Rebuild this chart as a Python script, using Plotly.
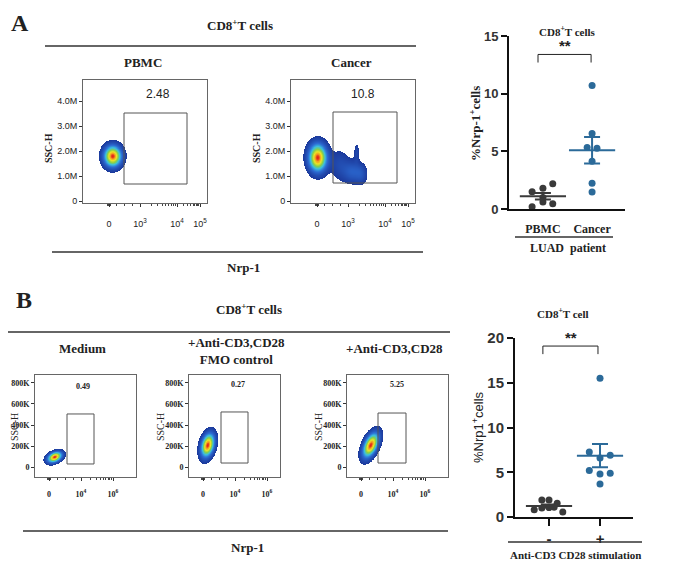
import numpy as np
import plotly.graph_objects as go

W, H = 677, 574
OX, OY = 8, 8  # page body margin in the browser
SERIF = 'Liberation Serif'
SANS = 'Liberation Sans'

# ---------------- values ----------------
# A, dot plot (% Nrp-1+ of CD8+ T cells, LUAD patients)
a_groups = ['PBMC', 'Cancer']
a_pbmc = [1.5, 1.8, 2.2, 1.0, 0.2, 0.6, 0.45]
a_pbmc_dx = [-0.22, 0.0, 0.2, 0.0, -0.22, 0.0, 0.2]
a_cancer = [10.7, 6.55, 5.34, 5.26, 4.14, 2.24, 1.47]
a_cancer_dx = [0.0, 0.0, -0.1, 0.1, 0.0, 0.0, 0.0]

# B, dot plot (anti-CD3/CD28 stimulation)
b_groups = ['-', '+']
b_minus = [0.8, 1.9, 1.9, 1.55, 1.0, 1.05, 1.1, 0.55]
b_minus_dx = [-0.29, -0.14, 0.0, 0.16, -0.14, 0.0, 0.1, 0.27]
b_plus = [15.5, 7.25, 6.6, 6.9, 5.2, 4.8, 4.9, 3.7]
b_plus_dx = [0.0, -0.21, 0.0, 0.2, -0.21, 0.0, 0.2, 0.0]

# flow plots: gate percentages, gate bounds, density blobs [cx, cy, sx, sy, rho, amp]
a_flow_titles = ['PBMC', 'Cancer']
a_flow_pct = ['2.48', '10.8']
a_gate_x = [[41, 104], [42, 106]]
a_gate_y = [[0.68, 3.52], [0.72, 3.56]]
a_blobs = [
    [[30, 1.78, 5.9, 0.28, 0.0, 1.0]],
    [[27, 1.72, 6.1, 0.37, 0.0, 1.0],
     [49, 1.45, 6.5, 0.42, 0.0, 0.13],
     [62, 1.15, 6.5, 0.30, 0.0, 0.22],
     [71, 1.05, 4.0, 0.28, 0.0, 0.13],
     [66, 1.95, 1.8, 0.25, 0.0, 0.12]],
]
a_ytick_text = ['0', '1.0M', '2.0M', '3.0M', '4.0M']
a_xtick_text = ['0', '10<sup>3</sup>', '10<sup>4</sup>', '10<sup>5</sup>']

b_flow_titles = ['Medium', '+Anti-CD3,CD28<br>FMO control', '+Anti-CD3,CD28']
b_flow_pct = ['0.49', '0.27', '5.25']
b_gate_x = [[32, 59], [32, 59], [31, 59]]
b_gate_y = [[29, 505], [38, 524], [38, 514]]
b_blobs = [
    [[20, 92, 4.8, 34, 0.35, 1.0]],
    [[19, 205, 4.5, 75, 0.3, 1.0]],
    [[24, 205, 5.3, 78, 0.5, 1.0]],
]
b_ytick_text = ['0', '200K', '400K', '600K', '800K']
b_xtick_text = ['0', '10<sup>4</sup>', '10<sup>6</sup>']

JET = [[0.0, '#1c3a9c'], [0.25, '#2c6bd3'], [0.45, '#3bbfe0'], [0.63, '#86cf4a'],
       [0.8, '#ece425'], [0.92, '#f49a20'], [1.0, '#e1221a']]
T = 0.06


def xdom(x0, x1):
    return [(x0 - OX) / W, (x1 - OX) / W]


def ydom(y0, y1):
    return [1 - (y1 - OY) / H, 1 - (y0 - OY) / H]


def blob_trace(n, blobs, xspan, yr):
    xs = np.linspace(0, xspan, int(xspan * 3))
    ys = np.linspace(yr[0], yr[1], 360)
    X, Y = np.meshgrid(xs, ys)
    Z = np.zeros_like(X)
    for cx, cy, sx, sy, rho, amp in blobs:
        u = (X - cx) / sx
        v = (Y - cy) / sy
        q = (u * u + v * v - 2 * rho * u * v) / (1 - rho * rho)
        Z += amp * np.exp(-0.5 * q)
    Z = Z / Z.max()
    Z[Z < T] = np.nan
    return go.Heatmap(x=xs, y=ys, z=Z, colorscale=JET, zmin=T, zmax=1, showscale=False,
                      xaxis=f'x{n}', yaxis=f'y{n}', hoverinfo='skip')


def log_minor(majors, lo):
    # dense ticks around zero, linear below the first decade, log within decades
    vals = [lo - 1.5, lo - 0.75, lo + 0.75, lo + 1.5]
    vals += list(np.linspace(lo, majors[0], 5)[1:-1])
    for p0, p1 in zip(majors[:-1], majors[1:]):
        vals += [p0 + (p1 - p0) * np.log10(k) for k in range(2, 10)]
    return vals


fig = go.Figure()
layout = dict(width=W, height=H, margin=dict(l=0, r=0, t=0, b=0, autoexpand=False),
              paper_bgcolor='white', plot_bgcolor='white', showlegend=False)
annotations = []
shapes = []


def ann(x, y, text, size, family=SERIF, bold=True, color='#222', angle=0, xref='paper', yref='paper',
        xanchor='center', yanchor='middle'):
    if xref == 'paper':
        x = (x - OX) / W
    if yref == 'paper':
        y = 1 - (y - OY) / H
    annotations.append(dict(x=x, y=y, xref=xref, yref=yref, text=text, showarrow=False,
                            textangle=angle, xanchor=xanchor, yanchor=yanchor,
                            font=dict(family=family, size=size, color=color,
                                      weight='bold' if bold else 'normal')))


def hline(x0, x1, y, color='#333', width=1.3):
    yy = 1 - (y - OY) / H
    shapes.append(dict(type='line', xref='paper', yref='paper', x0=(x0 - OX) / W, x1=(x1 - OX) / W,
                       y0=yy, y1=yy, line=dict(color=color, width=width)))


def flow_panel(n, px, py, xspan, yr, xt, xtt, yt, ytt, tfont, standoff, blobs, gx, gy, pct, pctpos, pfont):
    layout[f'xaxis{n}'] = dict(domain=xdom(*px), range=[0, xspan], anchor=f'y{n}',
                               showline=True, mirror=True, linecolor='#666', linewidth=1,
                               ticks='outside', ticklen=3, tickcolor='#333', tickvals=xt, ticktext=xtt,
                               tickfont=tfont, ticklabelstandoff=standoff,
                               minor=dict(tickvals=log_minor(xt[1:], xt[0]), ticklen=2, ticks='outside', tickcolor='#444'),
                               showgrid=False, zeroline=False, fixedrange=True)
    layout[f'yaxis{n}'] = dict(domain=ydom(*py), range=yr, anchor=f'x{n}',
                               showline=True, mirror=True, linecolor='#666', linewidth=1,
                               ticks='outside', ticklen=3, tickcolor='#333', tickvals=yt, ticktext=ytt,
                               tickfont=tfont, showgrid=False, zeroline=False, fixedrange=True)
    fig.add_trace(blob_trace(n, blobs, xspan, yr))
    shapes.append(dict(type='rect', xref=f'x{n}', yref=f'y{n}', x0=gx[0], x1=gx[1], y0=gy[0], y1=gy[1],
                       line=dict(color='#555', width=1)))
    ann(pctpos[0], pctpos[1], pct, pfont['size'], family=pfont['family'], bold=pfont['bold'],
        color='#222', xref=f'x{n}', yref=f'y{n}')


# ---------------- panel A flow plots ----------------
a_px = [(83, 207), (291, 415)]
a_pct_pos = [(75, 4.28), (72, 4.28)]
for i in range(2):
    n = i + 1
    flow_panel(n, a_px[i], (80, 203), 124, [-0.08, 4.84],
               [26, 57, 94, 117], a_xtick_text, [0, 1, 2, 3, 4], a_ytick_text,
               dict(family=SANS, size=9, color='#222'), 9, a_blobs[i],
               a_gate_x[i], a_gate_y[i], a_flow_pct[i], a_pct_pos[i],
               dict(family=SANS, size=12, bold=False))
    ann((a_px[i][0] + a_px[i][1]) / 2 - 2, 63, a_flow_titles[i], 13)
    ann(a_px[i][0] - 35, 148, 'SSC-H', 10, angle=-90)

ann(9, 8, 'A', 24, xanchor='left', yanchor='top')
ann(240, 25, 'CD8<sup>+</sup>T cells', 13)
hline(45, 416, 46)
hline(52, 423, 252)
ann(243, 267, 'Nrp-1', 13)

# ---------------- panel B flow plots ----------------
b_px = [(35, 136), (189, 280), (347, 448)]
b_pct_pos = [(48, 762), (49, 790), (50, 790)]
b_title_y = [348, 351, 348]
for i in range(3):
    n = i + 4
    flow_panel(n, b_px[i], (375, 477), b_px[i][1] - b_px[i][0], [-95, 876],
               [14, 46, 78], b_xtick_text, [0, 200, 400, 600, 800], b_ytick_text,
               dict(family=SERIF, size=8, color='#222', weight='bold'), 6, b_blobs[i],
               b_gate_x[i], b_gate_y[i], b_flow_pct[i], b_pct_pos[i],
               dict(family=SERIF, size=8, bold=True))
    ann(b_px[i][0] + 47, b_title_y[i], b_flow_titles[i], 13)
    ann(max(b_px[i][0] - 29, 14), 427, 'SSC-H', 10, bold=False, angle=-90)

ann(24, 300, 'B', 24)
ann(249, 309, 'CD8<sup>+</sup>T cells', 13)
hline(8, 450, 332)
hline(23, 448, 531)
ann(247, 547, 'Nrp-1', 13)


# ---------------- dot plots ----------------
def dot_panel(n, px, py, xr, yr, yt, groups, series, offsets, colors, tickfont, xticks, standoff, ysize):
    layout[f'xaxis{n}'] = dict(domain=xdom(*px), range=xr, anchor=f'y{n}', showline=True,
                               linecolor='#111', linewidth=2, tickvals=[0, 1], ticktext=groups,
                               ticks='outside' if xticks else '', ticklen=7, tickwidth=2, tickcolor='#111',
                               tickfont=tickfont, ticklabelstandoff=standoff,
                               showgrid=False, zeroline=False, fixedrange=True)
    layout[f'yaxis{n}'] = dict(domain=ydom(*py), range=yr, anchor=f'x{n}', showline=True,
                               linecolor='#111', linewidth=2, tickvals=yt, ticks='outside',
                               ticklen=6, tickwidth=2, tickcolor='#111',
                               tickfont=dict(family=SANS, size=ysize, color='#333', weight='bold'),
                               showgrid=False, zeroline=False, fixedrange=True)
    for k, (vals, dx, col) in enumerate(zip(series, offsets, colors)):
        v = np.array(vals)
        fig.add_trace(go.Scatter(x=[k + d for d in dx], y=vals, mode='markers', cliponaxis=False,
                                 marker=dict(color=col, size=7), xaxis=f'x{n}', yaxis=f'y{n}'))
        sem = v.std(ddof=1) / np.sqrt(len(v))
        fig.add_trace(go.Scatter(x=[k], y=[v.mean()], mode='markers', cliponaxis=False,
                                 marker=dict(symbol='line-ew-open', size=33, color=col,
                                             line=dict(color=col, width=2)),
                                 error_y=dict(type='data', array=[sem], color=col, thickness=2, width=8),
                                 xaxis=f'x{n}', yaxis=f'y{n}'))


GRAY = '#3a3a3a'
BLUE = '#2b6a99'
dot_panel(3, (509, 625), (36, 209), [-0.69, 1.67], [0, 15], [0, 5, 10, 15], a_groups,
          [a_pbmc, a_cancer], [a_pbmc_dx, a_cancer_dx], [GRAY, BLUE],
          dict(family=SERIF, size=12, color='#222', weight='bold'), False, 8, 13)
dot_panel(7, (515, 633), (338, 517), [-0.667, 1.647], [0, 20], [0, 5, 10, 15, 20], b_groups,
          [b_minus, b_plus], [b_minus_dx, b_plus_dx], [GRAY, BLUE],
          dict(family=SANS, size=15, color='#222', weight='bold'), True, 0, 15)

# A dot plot labels
ann(567, 31, 'CD8<sup>+</sup>T cells', 11)
ann(565, 45, '**', 15, family=SANS)
shapes.append(dict(type='path', xref='x3', yref='y3', path='M -0.1,12.7 L -0.1,13.4 L 0.98,13.4 L 0.98,12.7',
                   line=dict(color='#222', width=1)))
hline(515, 613, 237)
ann(568, 248, 'LUAD  patient', 12)
ann(475, 123, '%Nrp-1<sup>+</sup>cells', 13, angle=-90)

# B dot plot labels
ann(563, 313, 'CD8<sup>+</sup>T cell', 11)
ann(571, 337, '**', 15, family=SANS)
shapes.append(dict(type='path', xref='x7', yref='y7', path='M -0.12,18.2 L -0.12,19.1 L 0.96,19.1 L 0.96,18.2',
                   line=dict(color='#222', width=1)))
hline(508, 642, 542)
ann(575, 555, 'Anti-CD3 CD28 stimulation', 11)
ann(478, 427, '%Nrp1<sup>+</sup>cells', 13, family=SANS, bold=False, angle=-90)

layout['annotations'] = annotations
layout['shapes'] = shapes
fig.update_layout(**layout)
fig.write_html('out.html')
